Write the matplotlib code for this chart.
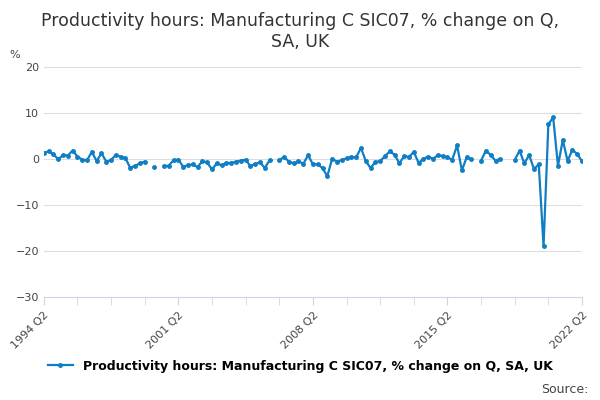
import numpy as np
import matplotlib.pyplot as plt

nan = np.nan
# quarterly values, 1994 Q2 .. 2022 Q2
values = [1.3, 1.6, 1.0, -0.1, 0.8, 0.7, 1.8, 0.5, -0.2, -0.3, 1.5, -0.5, 1.2, -0.6, -0.3, 0.9, 0.4, 0.1, -2.0, -1.5, -1.0, -0.6,
          nan, -1.8, nan,
          -1.6, -1.5, -0.3, -0.2, -1.7, -1.4, -1.2, -1.8, -0.5, -0.8, -2.3, -1.0, -1.4, -0.9,
          -0.9, -0.6, -0.4, -0.2, -1.6, -1.1, -0.8, -2.0, -0.3,
          nan,
          -0.3, 0.4, -0.6, -1.0, -0.5, -1.1, 0.8, -1.2, -1.2, -2.0, -3.8,
          0.0, -0.6, -0.3, 0.1, 0.4, 0.3, 2.4,
          -0.5, -2.0, -0.7, -0.5, 0.6, 1.6, 0.9, -1.0, 0.6, 0.4, 1.5, -0.9, 0.0, 0.5,
          0.0, 0.8, 0.6, 0.3, -0.2, 2.9, -2.5, 0.3, -0.1,
          nan,
          -0.4, 1.8, 0.8, -0.4, 0.0,
          nan, nan,
          -0.3, 1.8, -1.0, 0.8, -2.2, -1.2, -19.0, 7.5, 9.0, -1.5, 4.1, -0.5, 2.0, 1.0, -0.5]
tick_labels = ["1994 Q2", "2001 Q2", "2008 Q2", "2015 Q2", "2022 Q2"]
series_name = "Productivity hours: Manufacturing C SIC07, % change on Q, SA, UK"

x = np.arange(len(values))
y = np.array(values)

fig = plt.figure(figsize=(6, 4), dpi=100)
ax = fig.add_axes([0.073, 0.258, 0.897, 0.575])
blue = "#0f7ec4"
ax.plot(x, y, color=blue, lw=1.6, marker="o", ms=2.5, label=series_name)

ax.set_xlim(0, len(values) - 1)
ax.set_ylim(-30, 20)
ax.set_yticks([-30, -20, -10, 0, 10, 20])
ax.tick_params(axis="y", length=0, labelsize=8, colors="#444444")
ax.grid(axis="y", color="#dddddd", lw=0.8)
ax.set_xticks(np.arange(0, len(values), 7), minor=True)
ax.set_xticks(np.arange(0, len(values), 28))
ax.set_xticklabels(tick_labels, rotation=45, ha="right", rotation_mode="anchor", fontsize=8, color="#444444")
ax.tick_params(axis="x", which="both", length=6, color="#ccd6eb")
for s in ["top", "right", "left"]:
    ax.spines[s].set_visible(False)
ax.spines["bottom"].set_color("#ccd6eb")
ax.set_axisbelow(True)

fig.text(0.5, 0.97, "Productivity hours: Manufacturing C SIC07, % change on Q,\nSA, UK",
         ha="center", va="top", fontsize=12.5, color="#333333")
fig.text(0.015, 0.855, "%", fontsize=8, color="#444444")
fig.legend(loc="lower center", bbox_to_anchor=(0.5, 0.04), frameon=False,
           prop={"size": 9, "weight": "bold"}, handlelength=2)
fig.text(0.98, 0.01, "Source:", ha="right", va="bottom", fontsize=9, color="#444444")

fig.savefig("out.png")
